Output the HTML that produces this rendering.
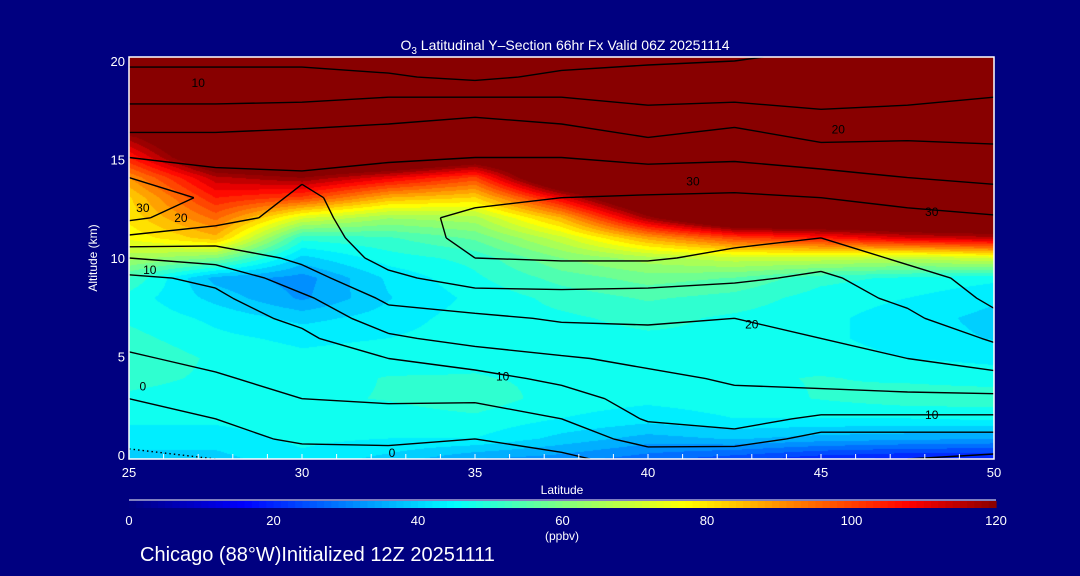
<!DOCTYPE html>
<html><head><meta charset="utf-8">
<style>
html,body{margin:0;padding:0;background:#000080;}
#wrap{position:relative;width:1080px;height:576px;background:#000080;overflow:hidden;font-family:"Liberation Sans",sans-serif;}
#heat{position:absolute;left:129px;top:57px;}
#ov{position:absolute;left:0;top:0;}
text{fill:#fff;font-family:"Liberation Sans",sans-serif;}
</style></head>
<body>
<div id="wrap">
<canvas id="heat" width="865" height="402"></canvas>
<svg id="ov" width="1080" height="576">
<g id="contours"></g>
<g id="axes"></g>
<text x="565" y="50" font-size="14" text-anchor="middle">O<tspan font-size="10" dy="4">3</tspan><tspan dy="-4"> Latitudinal Y–Section 66hr  Fx Valid 06Z 20251114</tspan></text>
<text transform="translate(97,258) rotate(-90)" font-size="12" text-anchor="middle">Altitude (km)</text>
<text x="562" y="494" font-size="12" text-anchor="middle">Latitude</text>
<text x="562" y="540" font-size="12" text-anchor="middle">(ppbv)</text>
<text x="140" y="561" font-size="20">Chicago (88°W)Initialized 12Z 20251111</text>
<g id="cbar"></g>
<g id="clabels" font-size="12" fill="#000">
</g>
</svg>
</div>
<script>
// ---- data ----
const lats = [25,27.5,30,32.5,35,37.5,40,42.5,45,47.5,50];
const alts = [0,1,2,3,4,5,6,7,8,9,10,11,12,13,14,15,16,17,18,19,20];
// ozone ppbv per latitude column, altitude 0..20 km
const o3_25  = [40,43,46,48,50,52,50,48,47,52,65,76,80,82,90,105,118,140,140,140,140];
const o3_275 = [40,43,46,47,48,48,46,44,40,36,60,85,95,105,115,135,140,140,140,140,140];
const o3_30  = [44,46,47,48,47,46,44,40,33,32,40,50,72,100,120,140,140,140,140,140,140];
const o3_325 = [40,45,47,49,49,47,45,43,41,42,47,52,64,86,110,140,140,140,140,140,140];
const o3_35  = [34,45,48,51,49,48,47,47,46,48,50,57,66,82,100,130,140,140,140,140,140];
const o3_375 = [32,40,45,47,48,47,47,48,50,54,60,70,86,110,140,140,140,140,140,140,140];
const o3_40  = [28,36,43,46,47,48,48,50,53,58,66,88,118,140,140,140,140,140,140,140,140];
const o3_425 = [24,38,45,47,48,48,48,48,51,56,70,100,140,140,140,140,140,140,140,140,140];
const o3_45  = [20,36,45,49,49,47,46,46,47,50,70,105,140,140,140,140,140,140,140,140,140];
const o3_475 = [18,35,45,51,48,45,43,43,45,48,68,112,140,140,140,140,140,140,140,140,140];
const o3_50  = [18,34,46,51,47,44,41,40,42,46,72,115,140,140,140,140,140,140,140,140,140];
const ozone = [o3_25,o3_275,o3_30,o3_325,o3_35,o3_375,o3_40,o3_425,o3_45,o3_475,o3_50];
// wind speed (contoured)
const w_25  = [-6,-4,-2,0,2,4.5,6,7,8,9,15,24,31,33,30,25,21,17,14,11,9];
const w_275 = [-5,-2,0,3,4.5,6,7,8,9,11,17,22,27,29,26,24,21,17,14,11,9];
const w_30  = [-3,1,3,5,6.5,8,9,11,14,18,21,22,23,24,25.5,24,21.5,18,14,11,9];
const w_325 = [-2,1,3.5,5.5,7.5,10,14,18,21,24,26.5,28,28.5,28,26.5,24.5,22,19,15,10.5,8];
const w_35  = [-2,0,3,5.5,8.5,12,17,19,23,27,30,31,31,29,27,25,23,20,15,9,6];
const w_375 = [-1,2,5,8,11,14.5,18,20.5,23.5,27,30.5,32,32,30,27,25,22,19,15,11,8];
const w_40  = [2,7,10.5,12,14,16,18,21,23,27,30.5,33,33,30.5,27,24,20,16.5,14,11.5,9];
const w_425 = [0,8,12,14,15.5,17,18.5,20,22,26,29,31,32,31,27,24.5,22,18,14,12,9.5];
const w_45  = [0,3,9,14,16,18,20,21.5,23,24,27,30,32,30,26.5,23,19,16,13.5,12,11];
const w_475 = [0,3,9,14,17,20,22,24,26,28,31,32,32,28,25,22.5,19.5,16.5,14,12.5,11];
const w_50  = [-1,3,9,14,18,23,25.5,29,31,32,32,32,30.5,27,24,22,19,16.5,15,13,11];
const wind = [w_25,w_275,w_30,w_325,w_35,w_375,w_40,w_425,w_45,w_475,w_50];
const levels = [-5,0,5,10,15,20,25,30,35];
const xTicks = [25,30,35,40,45,50];
const yTicks = [0,5,10,15,20];
const cbTicks = [0,20,40,60,80,100,120];

// ---- geometry ----
const X0=129, X1=994, Y0=57, Y1=459;
const xs = lat => X0 + (lat-25)/25*(X1-X0);
const ys = alt => Y1 - alt/20*(Y1-Y0);
const yl = alt => 455 - alt/20*394;
const NS='http://www.w3.org/2000/svg';

const stops=[[0,[0,0,128]],[16,[0,0,255]],[30,[0,128,255]],[45,[0,255,255]],[60,[128,255,128]],[77,[255,255,0]],[92,[255,128,0]],[108,[255,0,0]],[120,[136,0,0]]];
function cmap(v){
  if(v<=0) return stops[0][1];
  if(v>=120) return stops[stops.length-1][1];
  for(let k=0;k<stops.length-1;k++){
    const a=stops[k],b=stops[k+1];
    if(v>=a[0]&&v<=b[0]){const t=(v-a[0])/(b[0]-a[0]);return a[1].map((c,i)=>Math.round(c+(b[1][i]-c)*t));}
  }
}
function bil(grid,fi,fj){
  const i=Math.min(Math.floor(fi),lats.length-2), j=Math.min(Math.floor(fj),alts.length-2);
  const ti=fi-i, tj=fj-j;
  const a=grid[i][j],b=grid[i+1][j],c=grid[i][j+1],d=grid[i+1][j+1];
  return a*(1-ti)*(1-tj)+b*ti*(1-tj)+c*(1-ti)*tj+d*ti*tj;
}
// heatmap
(function(){
  const cv=document.getElementById('heat'),ctx=cv.getContext('2d');
  const W=cv.width,H=cv.height,img=ctx.createImageData(W,H);
  for(let py=0;py<H;py++){
    const alt=20*(1-py/(H-1));
    for(let px=0;px<W;px++){
      const lat=25+25*px/(W-1);
      let v=bil(ozone,(lat-25)/2.5,alt);
      v=Math.floor(v/3.75)*3.75+1.8;
      const c=cmap(v),o=(py*W+px)*4;
      img.data[o]=c[0];img.data[o+1]=c[1];img.data[o+2]=c[2];img.data[o+3]=255;
    }
  }
  ctx.putImageData(img,0,0);
})();
// contours (marching squares)
(function(){
  const g=document.getElementById('contours');
  levels.forEach(L=>{
    let d='';
    for(let i=0;i<lats.length-1;i++)for(let j=0;j<alts.length-1;j++){
      const c=[[lats[i],alts[j],wind[i][j]],[lats[i+1],alts[j],wind[i+1][j]],[lats[i+1],alts[j+1],wind[i+1][j+1]],[lats[i],alts[j+1],wind[i][j+1]]];
      const pts=[];
      for(let e=0;e<4;e++){
        const p=c[e],q=c[(e+1)%4];
        if((p[2]<L)!==(q[2]<L)){
          const t=(L-p[2])/(q[2]-p[2]);
          pts.push([xs(p[0]+(q[0]-p[0])*t),ys(p[1]+(q[1]-p[1])*t)]);
        }
      }
      for(let k=0;k+1<pts.length;k+=2)
        d+=`M${pts[k][0].toFixed(1)},${pts[k][1].toFixed(1)}L${pts[k+1][0].toFixed(1)},${pts[k+1][1].toFixed(1)}`;
    }
    const p=document.createElementNS(NS,'path');
    p.setAttribute('d',d);p.setAttribute('stroke','#000');p.setAttribute('stroke-width','1.4');p.setAttribute('fill','none');
    if(L<0)p.setAttribute('stroke-dasharray','1.5,3');
    
    
    g.appendChild(p);
  });
})();
// axes
(function(){
  const g=document.getElementById('axes');
  const r=document.createElementNS(NS,'rect');
  r.setAttribute('x',X0);r.setAttribute('y',Y0);r.setAttribute('width',X1-X0);r.setAttribute('height',Y1-Y0);
  r.setAttribute('fill','none');r.setAttribute('stroke','#fff');r.setAttribute('stroke-width','1.5');
  
  
  g.appendChild(r);
  for(let lat=25;lat<=50;lat++){
    const l=document.createElementNS(NS,'line');
    l.setAttribute('x1',xs(lat));l.setAttribute('x2',xs(lat));l.setAttribute('y1',Y1);l.setAttribute('y2',Y1-5);
    l.setAttribute('stroke','#fff');
    
    
    g.appendChild(l);
  }
  xTicks.forEach(v=>{
    const t=document.createElementNS(NS,'text');
    t.setAttribute('x',xs(v));t.setAttribute('y',Y1+18);t.setAttribute('font-size','13');t.setAttribute('text-anchor','middle');
    t.textContent=v;
    
    
    g.appendChild(t);
  });
  yTicks.forEach(v=>{
    const t=document.createElementNS(NS,'text');
    t.setAttribute('x',X0-4);t.setAttribute('y',yl(v)+5);t.setAttribute('font-size','13');t.setAttribute('text-anchor','end');
    t.textContent=v;
    
    
    g.appendChild(t);
  });
  // colorbar
  const cb=document.getElementById('cbar');
  const ln=document.createElementNS(NS,'line');
  ln.setAttribute('x1',X0);ln.setAttribute('x2',X1+2);ln.setAttribute('y1',500);ln.setAttribute('y2',500);ln.setAttribute('stroke','#fff');
  
  
  cb.appendChild(ln);
  const N=120;
  for(let k=0;k<N;k++){
    const v=(k+0.5)*120/N, c=cmap(v);
    const rr=document.createElementNS(NS,'rect');
    rr.setAttribute('x',X0+k*(X1+2-X0)/N);rr.setAttribute('y',501);rr.setAttribute('width',(X1+2-X0)/N+0.6);rr.setAttribute('height',7);
    rr.setAttribute('fill',`rgb(${c[0]},${c[1]},${c[2]})`);
    
    
    cb.appendChild(rr);
  }
  cbTicks.forEach(v=>{
    const t=document.createElementNS(NS,'text');
    t.setAttribute('x',X0+v/120*(X1+2-X0));t.setAttribute('y',525);t.setAttribute('font-size','13');t.setAttribute('text-anchor','middle');
    t.textContent=v;
    
    
    cb.appendChild(t);
  });
})();
// contour labels
const labelText=['10','20','30','20','10','0','20','10','30','30','10','0'];
const labelLat=[27,45.5,25.4,26.5,25.6,25.4,43,35.8,41.3,48.2,48.2,32.6];
const labelAlt=[18.7,16.4,12.5,12,9.4,3.6,6.7,4.1,13.8,12.3,2.2,0.3];
(function(){
  const g=document.getElementById('clabels');
  labelText.forEach((s,k)=>{
    const t=document.createElementNS(NS,'text');
    t.setAttribute('x',xs(labelLat[k]));t.setAttribute('y',ys(labelAlt[k])+4);
    t.setAttribute('font-size','12');t.setAttribute('style','fill:#000');t.setAttribute('text-anchor','middle');
    t.textContent=s;
    
    
    g.appendChild(t);
  });
})();
</script>
</body></html>
